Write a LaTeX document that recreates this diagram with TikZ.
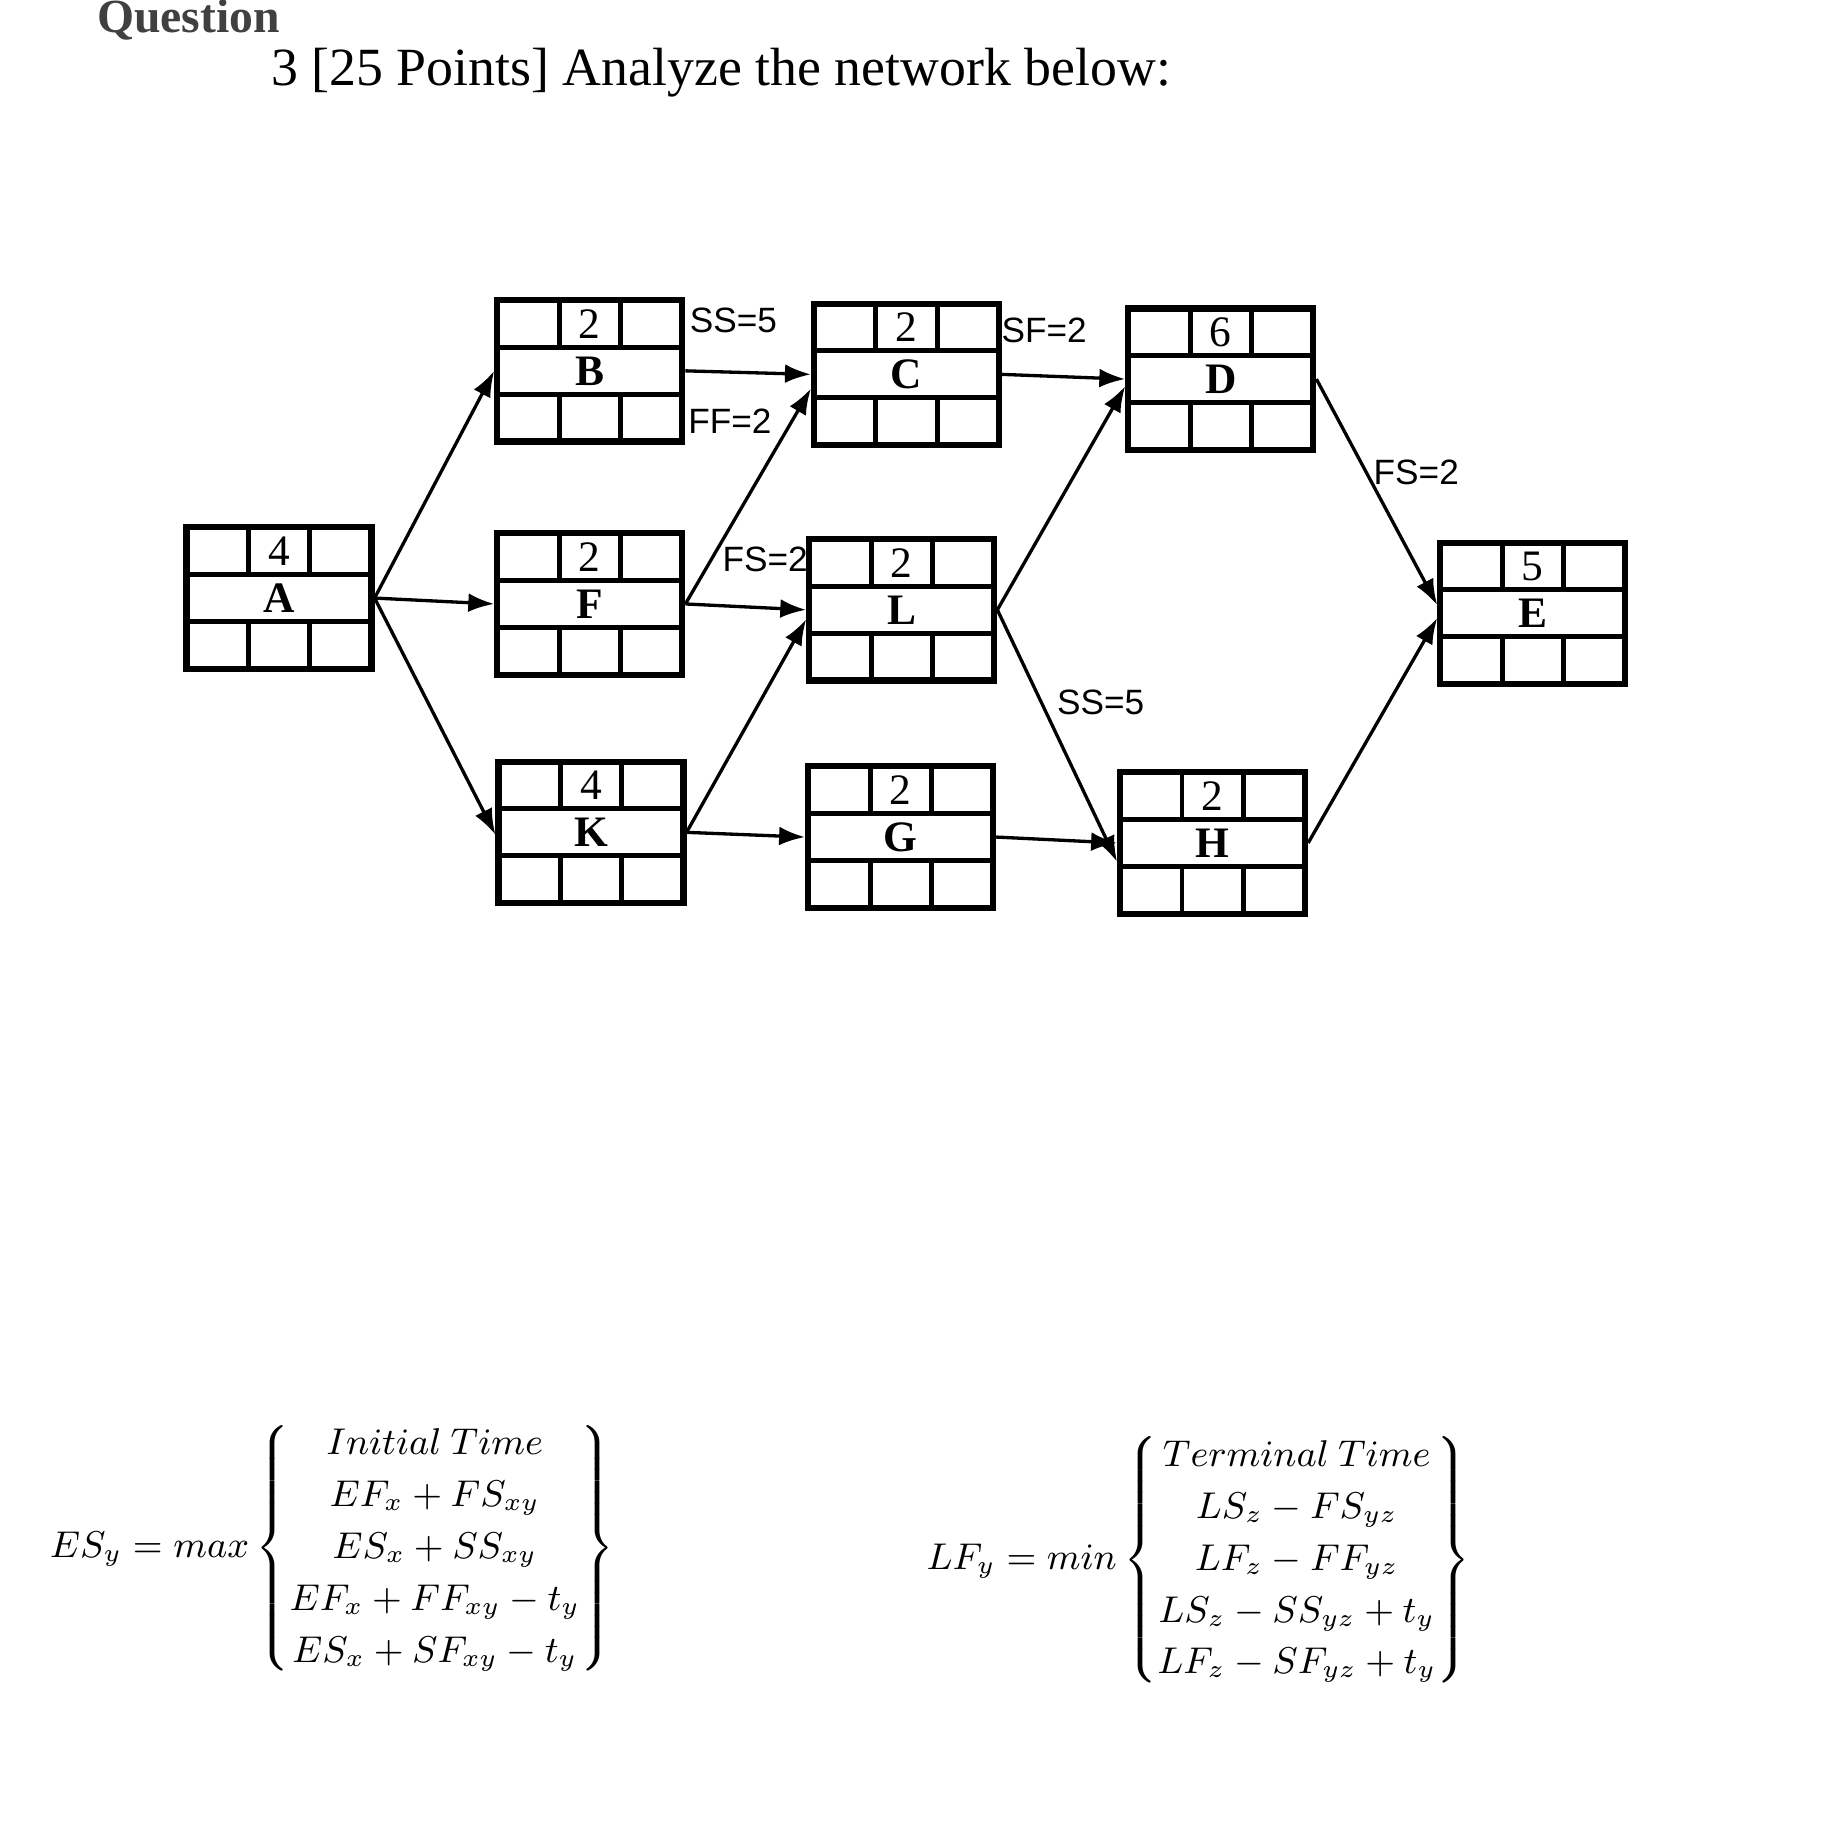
\documentclass[tikz,border=0pt]{standalone}
\usepackage{fontspec}
\setmainfont{Liberation Serif}
\setsansfont{Liberation Sans}
\usepackage{amsmath}
\usetikzlibrary{arrows.meta}
\tikzset{
  box/.style={draw,line width=1.5pt,minimum width=1.57cm,minimum height=1.2cm,inner sep=0pt},
  gridln/.style={line width=1.2pt},
  conn/.style={line width=0.8pt,-{Latex[length=0.22cm,width=0.16cm]}},
  lbl/.style={font=\sffamily\fontsize{8.5}{10}\selectfont,inner sep=1pt},
  cell/.style={font=\fontsize{10.5}{12}\selectfont},
  actname/.style={font=\bfseries\fontsize{10.5}{12}\selectfont},
  formula/.style={font=\fontsize{9}{12.5}\selectfont}
}
\newcommand\actbox[5]{%
  \node[box] (#1) at (#2,#3) {};
  \begin{scope}[shift={(#1)}]
    \draw[gridln] (-78.5,-20) -- (78.5,-20) (-78.5,20) -- (78.5,20)
      (-26,-60) -- (-26,-20) (26,-60) -- (26,-20)
      (-26,20) -- (-26,60) (26,20) -- (26,60);
    \node[cell] (#1d) at (0,-40) {#4};
    \node[actname] (#1n) at (0,0) {#5};
  \end{scope}}
\begin{document}
\begin{tikzpicture}[x=0.01cm,y=-0.01cm]
\useasboundingbox (0,0) rectangle (1568,1563);
\fill[white] (0,0) rectangle (1568,1563);
\node[anchor=west,font=\bfseries\fontsize{11.5}{14}\selectfont,text=black!75] (q) at (70,17) {Question};
\node[anchor=west,font=\fontsize{13}{15}\selectfont] (t) at (218,62) {3 [25 Points] Analyze the network below:};
\actbox{A}{237}{508}{4}{A}
\actbox{B}{501}{315}{2}{B}
\actbox{C}{770}{318}{2}{C}
\actbox{D}{1037}{322}{6}{D}
\actbox{F}{501}{513}{2}{F}
\actbox{L}{766}{518}{2}{L}
\actbox{K}{502}{707}{4}{K}
\actbox{G}{765}{711}{2}{G}
\actbox{H}{1030}{716}{2}{H}
\actbox{E}{1302}{521}{5}{E}
\draw[conn] (A.east) -- (F.west);
\draw[conn] (A.east) -- (B.west);
\draw[conn] (A.east) -- ([yshift=-0.02cm]K.west);
\draw[conn] (B.east) -- (C.west);
\node[lbl] (l1) at (623,272) {SS=5};
\node[lbl] (l2) at (620,358) {FF=2};
\draw[conn] (F.east) -- ([yshift=-0.12cm]C.west);
\node[lbl] (l3) at (650,475) {FS=2};
\draw[conn] (F.east) -- (L.west);
\draw[conn] (K.east) -- ([yshift=-0.08cm]L.west);
\draw[conn] (K.east) -- (G.west);
\draw[conn] (C.east) -- (D.west);
\node[lbl] (l4) at (887,281) {SF=2};
\draw[conn] (L.east) -- ([yshift=-0.06cm]D.west);
\draw[conn] (L.east) -- ([yshift=-0.16cm]H.west);
\node[lbl] (l5) at (935,597) {SS=5};
\draw[conn] (G.east) -- (H.west);
\draw[conn] (D.east) -- ([yshift=0.07cm]E.west);
\node[lbl] (l6) at (1203,401) {FS=2};
\draw[conn] (H.east) -- ([yshift=-0.04cm]E.west);
\node[formula] (f1) at (282,1315) {$ES_y = max\left\{\begin{matrix} Initial\ Time\\ EF_x+FS_{xy}\\ ES_x+SS_{xy}\\ EF_x+FF_{xy}-t_y\\ ES_x+SF_{xy}-t_y\end{matrix}\right\}$};
\node[formula] (f2) at (1018,1325) {$LF_y = min\left\{\begin{matrix} Terminal\ Time\\ LS_z-FS_{yz}\\ LF_z-FF_{yz}\\ LS_z-SS_{yz}+t_y\\ LF_z-SF_{yz}+t_y\end{matrix}\right\}$};
\end{tikzpicture}
\end{document}
